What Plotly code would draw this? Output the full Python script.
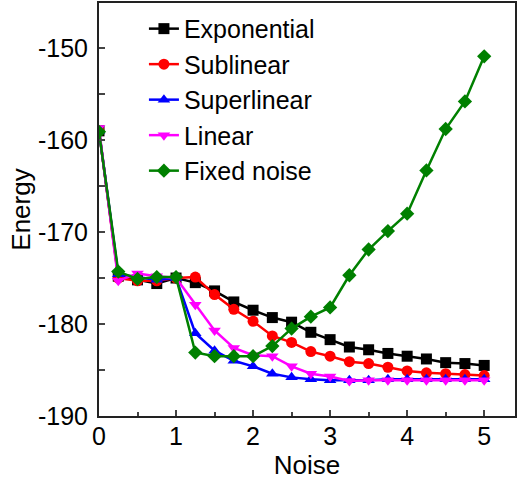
import plotly.graph_objects as go

noise = [0, 0.25, 0.5, 0.75, 1.0, 1.25, 1.5, 1.75, 2.0, 2.25, 2.5, 2.75, 3.0, 3.25, 3.5, 3.75, 4.0, 4.25, 4.5, 4.75, 5.0]

exponential = [-159.0, -174.8, -175.2, -175.6, -175.0, -175.5, -176.4, -177.6, -178.5, -179.3, -179.8,
               -180.9, -181.7, -182.5, -182.8, -183.2, -183.5, -183.8, -184.2, -184.3, -184.5]
sublinear = [-159.0, -175.0, -175.3, -175.3, -175.0, -174.9, -176.8, -178.4, -179.7, -181.3, -182.0,
             -183.0, -183.5, -184.1, -184.3, -184.7, -185.1, -185.3, -185.4, -185.5, -185.6]
superlinear = [-159.0, -174.6, -174.9, -175.2, -175.0, -181.0, -182.9, -184.0, -184.6, -185.4, -185.8,
               -186.0, -186.1, -186.1, -186.1, -186.0, -186.0, -186.0, -186.0, -186.0, -186.0]
linear = [-158.7, -175.3, -174.5, -174.8, -175.0, -177.9, -180.7, -182.6, -183.4, -183.5, -184.6,
          -185.4, -185.7, -186.2, -186.1, -186.1, -186.1, -186.1, -186.1, -186.1, -186.1]
fixed_noise = [-159.1, -174.3, -175.1, -174.9, -174.9, -183.1, -183.5, -183.5, -183.5, -182.4, -180.5,
               -179.2, -178.2, -174.7, -171.9, -169.9, -168.0, -163.3, -158.8, -155.8, -150.9]

y_ticks = [-190, -180, -170, -160, -150]
y_tick_labels = ["-190", "-180", "-170", "-160", "-150"]
x_ticks = [0, 1, 2, 3, 4, 5]
x_tick_labels = ["0", "1", "2", "3", "4", "5"]

series = [
    ("Exponential", exponential, "black", "square"),
    ("Sublinear", sublinear, "#ff0000", "circle"),
    ("Superlinear", superlinear, "#0000ff", "triangle-up"),
    ("Linear", linear, "#ff00ff", "triangle-down"),
    ("Fixed noise", fixed_noise, "#008000", "diamond"),
]

fig = go.Figure()
for name, vals, color, sym in series:
    fig.add_trace(go.Scatter(
        x=noise, y=vals, name=name, mode="lines+markers",
        line=dict(color=color, width=2.5),
        marker=dict(symbol=sym, size=11, color=color),
    ))

font = "Liberation Sans, Arial, sans-serif"
fig.update_layout(
    width=517, height=481,
    margin=dict(l=99, r=0, t=3, b=65),
    paper_bgcolor="white", plot_bgcolor="white",
    font=dict(family=font, color="black"),
    showlegend=True,
    legend=dict(x=0.108, y=0.993, xanchor="left", yanchor="top",
                font=dict(size=25, family=font), bgcolor="rgba(0,0,0,0)"),
    xaxis=dict(range=[0, 5.4], tickvals=x_ticks, ticktext=x_tick_labels,
               ticks="inside", ticklen=6, tickwidth=1.5, ticklabelstandoff=-3,
               showline=True, linecolor="#222", linewidth=2, mirror=True, showgrid=False,
               zeroline=False, tickfont=dict(size=25),
               minor=dict(dtick=0.5, tick0=0, ticks="inside", ticklen=4, tickwidth=1.5, showgrid=False),
               title=dict(text="Noise", font=dict(size=26), standoff=0)),
    yaxis=dict(range=[-190, -145.1], tickvals=y_ticks, ticktext=y_tick_labels,
               ticks="inside", ticklen=6, tickwidth=1.5, ticklabelstandoff=4,
               showline=True, linecolor="#222", linewidth=2, mirror=True, showgrid=False,
               zeroline=False, tickfont=dict(size=25),
               minor=dict(dtick=5, tick0=-190, ticks="inside", ticklen=6, tickwidth=1.5, showgrid=False),
               title=dict(text="Energy", font=dict(size=26), standoff=0)),
)

fig.write_html("out.html")
